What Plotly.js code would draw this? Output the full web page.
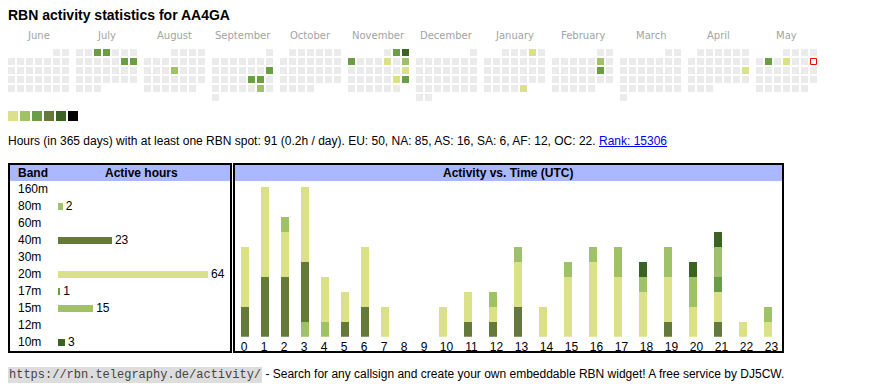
<!DOCTYPE html>
<html><head><meta charset="utf-8">
<script src="https://cdn.plot.ly/plotly-3.0.1.min.js"></script>
<style>
html,body{margin:0;padding:0;background:#fff;}
#wrap{position:relative;width:870px;height:390px;overflow:hidden;}
#plot{position:absolute;left:0;top:0;width:870px;height:390px;}
.t{position:absolute;left:8px;white-space:nowrap;font-family:"Liberation Sans",Arial,sans-serif;color:#000;}
#title{top:7px;font-size:14px;font-weight:bold;line-height:16px;}
#stats{top:134px;font-size:12px;line-height:14px;}
#stats a{color:#00e;text-decoration:underline;}
#foot{top:366px;font-size:12px;line-height:16px;}
#foot code{font-family:"Liberation Mono","DejaVu Sans Mono",monospace;font-size:12px;background:#ddd;padding:1px 1px;color:#444;}
</style></head>
<body>
<div id="wrap">
<div id="plot"></div>
<div class="t" id="title">RBN activity statistics for AA4GA</div>
<div class="t" id="stats">Hours (in 365 days) with at least one RBN spot: 91 (0.2h / day). EU: 50, NA: 85, AS: 16, SA: 6, AF: 12, OC: 22. <a href="#">Rank: 15306</a></div>
<div class="t" id="foot"><code>https://rbn.telegraphy.de/activity/</code> - Search for any callsign and create your own embeddable RBN widget! A free service by DJ5CW.</div>
</div>
<script>
// ---------- data ----------
const months = ['June','July','August','September','October','November','December','January','February','March','April','May'];
const firstYear = 2024, firstMonth = 5; // June 2024 (0-based month)
const activeDays = ['2024-07-03','2024-07-04','2024-07-13','2024-07-14','2024-08-15',
  '2024-09-15','2024-09-20','2024-09-21','2024-09-28',
  '2024-11-02','2024-11-03','2024-11-04','2024-11-08','2024-11-10','2024-11-17','2024-11-23','2024-11-24',
  '2025-01-04','2025-01-31','2025-02-08','2025-02-15','2025-04-20','2025-05-06','2025-05-08'];
const activeLevels = [3,3,3,3,2,3,3,3,2,3,5,3,1,2,1,1,3,1,1,2,3,1,3,1];
const today = '2025-05-11';
const levelColors = ['#dae189','#9fc268','#6a9e44','#65793a','#3a6324','#000000'];
const emptyColor = '#ebebeb';

const bands = ['160m','80m','60m','40m','30m','20m','17m','15m','12m','10m'];
const bandHours = [0,2,0,23,0,64,1,15,0,3];
const bandColors = ['#cccccc','#9fc268','#cccccc','#65793a','#cccccc','#dae189','#6a9e44','#9fc268','#cccccc','#3a6324'];

const hourLabels = ['0','1','2','3','4','5','6','7','8','9','10','11','12','13','14','15','16','17','18','19','20','21','22','23'];
const h80m = [0,0,0,1,1,0,0,0,0,0,0,0,0,0,0,0,0,0,0,0,0,0,0,0];
const h40m = [2,4,4,4,0,1,2,0,0,0,0,1,1,2,0,0,0,0,0,1,0,1,0,0];
const h20m = [4,6,3,5,3,2,4,2,0,0,2,2,1,3,2,4,5,4,3,3,2,2,1,1];
const h17m = [0,0,0,0,0,0,0,0,0,0,0,0,0,0,0,0,0,0,0,0,0,1,0,0];
const h15m = [0,0,1,0,0,0,0,0,0,0,0,0,1,1,0,1,1,2,1,2,2,2,0,1];
const h10m = [0,0,0,0,0,0,0,0,0,0,0,0,0,0,0,0,0,0,1,0,1,1,0,0];

// ---------- helpers (page pixel -> paper) ----------
const W = 870, H = 390;
const PX = x => x / W, PY = y => 1 - y / H;
const FONT = '"Liberation Sans", Arial, sans-serif';
const FS = 12;

// ---------- calendar ----------
const monthStep = 68 / 9; // month block pitch in cell units
const cx = [], cy = [], cc = [], tx = [], ty = [];
const levelByDay = {};
activeDays.forEach((d, i) => levelByDay[d] = activeLevels[i]);
function iso(y, m, d) { return y + '-' + String(m + 1).padStart(2, '0') + '-' + String(d).padStart(2, '0'); }
months.forEach((name, mi) => {
  const y = firstYear + Math.floor((firstMonth + mi) / 12);
  const m = (firstMonth + mi) % 12;
  const first = (new Date(Date.UTC(y, m, 1)).getUTCDay() + 6) % 7;
  const nDays = new Date(Date.UTC(y, m + 1, 0)).getUTCDate();
  for (let d = 1; d <= nDays; d++) {
    const wd = (first + d - 1) % 7, row = Math.floor((first + d - 1) / 7);
    const key = iso(y, m, d);
    const xv = mi * monthStep + wd;
    if (key === today) { tx.push(xv); ty.push(row); continue; }
    cx.push(xv); cy.push(row);
    cc.push(levelByDay[key] ? levelColors[levelByDay[key] - 1] : emptyColor);
  }
});
const traces = [];
traces.push({type: 'scatter', mode: 'markers', x: cx, y: cy, xaxis: 'x', yaxis: 'y',
  marker: {symbol: 'square', size: 7, color: cc, line: {width: 0}}, hoverinfo: 'skip', showlegend: false});
traces.push({type: 'scatter', mode: 'markers', x: tx, y: ty, xaxis: 'x', yaxis: 'y',
  marker: {symbol: 'square', size: 6, color: '#ffffff', line: {width: 1, color: '#ff0000'}}, hoverinfo: 'skip', showlegend: false});
// colour key (legend swatches)
traces.push({type: 'scatter', mode: 'markers',
  x: levelColors.map((c, i) => (1.5 + 12 * i) / 9), y: levelColors.map(() => 63.5 / 9),
  xaxis: 'x', yaxis: 'y',
  marker: {symbol: 'square', size: 10, color: levelColors, line: {width: 0}}, hoverinfo: 'skip', showlegend: false});

// ---------- band bars ----------
traces.push({type: 'bar', orientation: 'h', y: bands, x: bandHours, xaxis: 'x2', yaxis: 'y2',
  width: 7 / 17, marker: {color: bandColors, line: {width: 0}},
  text: bandHours.map(v => v ? String(v) : ''), textposition: 'outside', cliponaxis: false,
  constraintext: 'none', textfont: {family: FONT, size: FS, color: '#000'},
  hoverinfo: 'skip', showlegend: false});

// ---------- hour bars ----------
const barX = [], labX = [];
let colLeft = 0;
hourLabels.forEach(l => {
  const w = l.length === 1 ? 20 : 25;
  labX.push(colLeft + w / 2);
  barX.push(colLeft + (l.length === 1 ? 11 : 9));
  colLeft += w;
});
const series = [[h80m, 1], [h40m, 3], [h20m, 5], [h17m, 6], [h15m, 7], [h10m, 9]];
series.forEach(([vals, bi]) => {
  traces.push({type: 'bar', x: barX, y: vals, xaxis: 'x3', yaxis: 'y3', width: 8,
    marker: {color: bandColors[bi], line: {width: 0}}, hoverinfo: 'skip', showlegend: false, name: bands[bi]});
});

// ---------- annotations ----------
const ann = [];
months.forEach((name, mi) => ann.push({xref: 'x', yref: 'y', x: mi * monthStep + 3, y: -17.5 / 9,
  text: name, showarrow: false, xanchor: 'center', yanchor: 'middle',
  font: {family: '"DejaVu Sans", Verdana, sans-serif', size: 10, color: '#a3a3a3'}}));
bands.forEach(b => ann.push({xref: 'paper', yref: 'y2', x: PX(16), y: b, text: b, showarrow: false,
  xanchor: 'left', yanchor: 'middle', font: {family: FONT, size: FS, color: '#000'}}));
ann.push({xref: 'paper', yref: 'paper', x: PX(16), y: PY(173), text: '<b>Band</b>', showarrow: false,
  xanchor: 'left', yanchor: 'middle', font: {family: FONT, size: FS, color: '#000'}});
ann.push({xref: 'paper', yref: 'paper', x: PX(141.7), y: PY(173), text: '<b>Active hours</b>', showarrow: false,
  xanchor: 'center', yanchor: 'middle', font: {family: FONT, size: FS, color: '#000'}});
ann.push({xref: 'paper', yref: 'paper', x: PX(508.3), y: PY(173), text: '<b>Activity vs. Time (UTC)</b>', showarrow: false,
  xanchor: 'center', yanchor: 'middle', font: {family: FONT, size: FS, color: '#000'}});

// ---------- shapes ----------
const hdr = '#aab8ff';
const shapes = [
  {type: 'rect', xref: 'paper', yref: 'paper', x0: PX(10), x1: PX(230), y0: PY(181), y1: PY(165), fillcolor: hdr, line: {width: 0}, layer: 'below'},
  {type: 'rect', xref: 'paper', yref: 'paper', x0: PX(235), x1: PX(782), y0: PY(181), y1: PY(165), fillcolor: hdr, line: {width: 0}, layer: 'below'},
  {type: 'rect', xref: 'paper', yref: 'paper', x0: PX(9), x1: PX(231), y0: PY(352), y1: PY(164), line: {width: 2, color: '#000'}},
  {type: 'rect', xref: 'paper', yref: 'paper', x0: PX(234), x1: PX(783), y0: PY(352), y1: PY(164), line: {width: 2, color: '#000'}}
];

const hidden = {visible: false, fixedrange: true};
const layout = {
  width: W, height: H, margin: {l: 0, r: 0, t: 0, b: 0, pad: 0},
  paper_bgcolor: 'rgba(0,0,0,0)', plot_bgcolor: 'rgba(0,0,0,0)',
  barmode: 'stack', showlegend: false, hovermode: false,
  xaxis: Object.assign({domain: [0, 1], range: [-11.5 / 9, (W - 11.5) / 9]}, hidden),
  yaxis: Object.assign({domain: [0, 1], range: [(H - 52.5) / 9, -52.5 / 9]}, hidden),
  xaxis2: Object.assign({domain: [PX(58), PX(230)], range: [0, 64 * 172 / 150], anchor: 'y2'}, hidden),
  yaxis2: Object.assign({domain: [PY(350.8), PY(180.8)], type: 'category', categoryorder: 'array', categoryarray: bands,
    range: [9.5, -0.5], anchor: 'x2'}, hidden),
  xaxis3: {domain: [PX(234), PX(782)], range: [0, 548], anchor: 'y3', fixedrange: true,
    showgrid: false, zeroline: false, showline: false, ticks: '', tickvals: labX, ticktext: hourLabels,
    tickfont: {family: FONT, size: FS, color: '#000'}, ticklabelstandoff: 1},
  yaxis3: Object.assign({domain: [PY(336.7), PY(186.7)], range: [0, 10], anchor: 'x3'}, hidden),
  annotations: ann, shapes: shapes
};
Plotly.newPlot('plot', traces, layout, {staticPlot: true, displayModeBar: false});
</script>
</body></html>
